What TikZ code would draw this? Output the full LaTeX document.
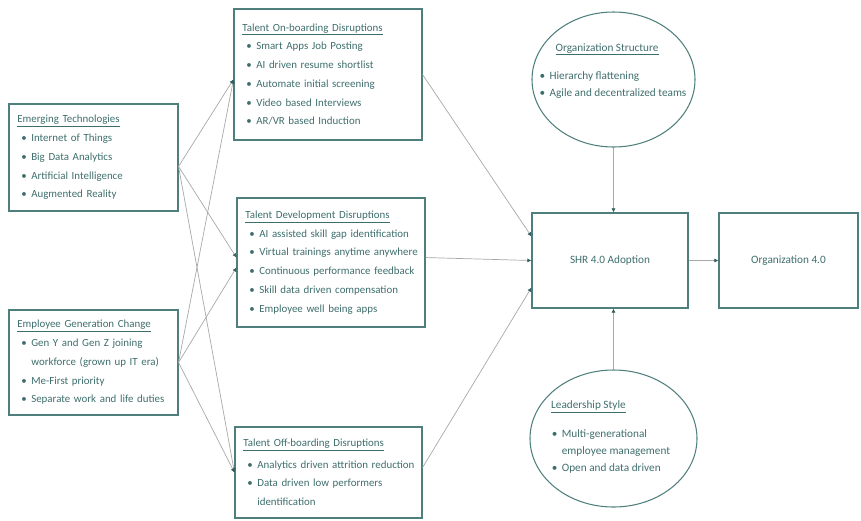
\documentclass[tikz,border=0pt]{standalone}
\usepackage{fontspec}
\setmainfont{Carlito}
\usetikzlibrary{shapes.geometric,arrows.meta}
\definecolor{boxline}{HTML}{4F7F7D}
\definecolor{boxtext}{HTML}{3E6E6C}
\definecolor{wirecol}{HTML}{A8A8A8}
\definecolor{tipcol}{HTML}{2F5F5D}
\newcommand{\hd}[1]{\underline{#1}}
\newcommand{\itm}[1]{\hspace*{0.12cm}\makebox[0.3cm][l]{\textbullet}\mbox{#1}}
\newcommand{\cnt}[1]{\hspace*{0.42cm}\mbox{#1}}

\begin{document}
\begin{tikzpicture}[
    x=0.03cm, y=-0.03cm,
    txt/.style={text=boxtext, align=left, font=\fontsize{9.6}{14.5}\selectfont},
    box/.style={txt, font=\fontsize{9.3}{16}\selectfont, rectangle, draw=boxline, line width=0.9pt, inner xsep=0.25cm, inner ysep=0pt},
    oval/.style={ellipse, draw=boxline, line width=0.9pt},
    wire/.style={draw=wirecol, line width=0.6pt, -{Latex[length=3.5pt,width=3.5pt,color=tipcol]}}
]
\useasboundingbox (0,0) rectangle (861,520);

% left column
\node[box, text width=4.57cm, minimum height=3.21cm] (emt) at (93.5,157.5) {\hd{Emerging Technologies}\\ \itm{Internet of Things}\\ \itm{Big Data Analytics}\\ \itm{Artificial Intelligence}\\ \itm{Augmented Reality}};
\node[box, text width=4.57cm, minimum height=3.15cm] (egc) at (93.5,362.5) {\hd{Employee Generation Change}\\ \itm{Gen Y and Gen Z joining}\\ \cnt{workforce (grown up IT era)}\\ \itm{Me-First priority}\\ \itm{Separate work and life duties}};

% middle column
\node[box, text width=5.14cm, minimum height=3.93cm] (onb) at (328,74.5) {\hd{Talent On-boarding Disruptions}\\ \itm{Smart Apps Job Posting}\\ \itm{AI driven resume shortlist}\\ \itm{Automate initial screening}\\ \itm{Video based Interviews}\\ \itm{AR/VR based Induction}};
\node[box, text width=5.14cm, minimum height=3.87cm] (dev) at (331,262.5) {\hd{Talent Development Disruptions}\\ \itm{AI assisted skill gap identification}\\ \itm{Virtual trainings anytime anywhere}\\ \itm{Continuous performance feedback}\\ \itm{Skill data driven compensation}\\ \itm{Employee well being apps}};
\node[box, text width=5.11cm, minimum height=2.73cm] (off) at (328.5,472.5) {\hd{Talent Off-boarding Disruptions}\\[2pt] \itm{Analytics driven attrition reduction}\\ \itm{Data driven low performers}\\ \cnt{identification}\\[4pt]};

% right part
\node[box, align=center, minimum width=4.68cm, minimum height=2.85cm, font=\fontsize{9.6}{12}\selectfont] (shr) at (610,260.5) {SHR 4.0 Adoption};
\node[box, align=center, minimum width=4.17cm, minimum height=2.85cm, font=\fontsize{9.6}{12}\selectfont] (org) at (788.5,260.5) {Organization 4.0};
\node[oval, minimum width=4.89cm, minimum height=4.05cm] (orgs) at (613.5,79.5) {};
\node[txt] (orgstxt) at (611,71) {\hspace*{0.6cm}\hd{Organization Structure}\\[10pt] \itm{Hierarchy flattening}\\ \itm{Agile and decentralized teams}};
\node[oval, minimum width=5.01cm, minimum height=4.11cm] (lead) at (613.5,438.5) {};
\node[txt] (leadtxt) at (609,437) {\hspace*{0.1cm}\hd{Leadership Style}\\[10pt] \itm{Multi-generational}\\ \cnt{employee management}\\ \itm{Open and data driven}};

% drivers to disruptions
\draw[wire] (emt.-6) -- (onb.183);
\draw[wire] (emt.-6) -- (dev.177);
\draw[wire] (emt.-6) -- (off.west);
\draw[wire] (egc.east) -- (onb.183);
\draw[wire] (egc.east) -- (dev.183);
\draw[wire] (egc.east) -- (off.west);

% disruptions to adoption
\draw[wire] (onb.east) -- (shr.163);
\draw[wire] (dev.3) -- (shr.west);
\draw[wire] (off.3) -- (shr.199);
\draw[wire] (orgs.south) -- (shr.north -| orgs.south);
\draw[wire] (lead.north) -- (shr.south -| lead.north);
\draw[wire] (shr) -- (org);
\end{tikzpicture}
\end{document}
